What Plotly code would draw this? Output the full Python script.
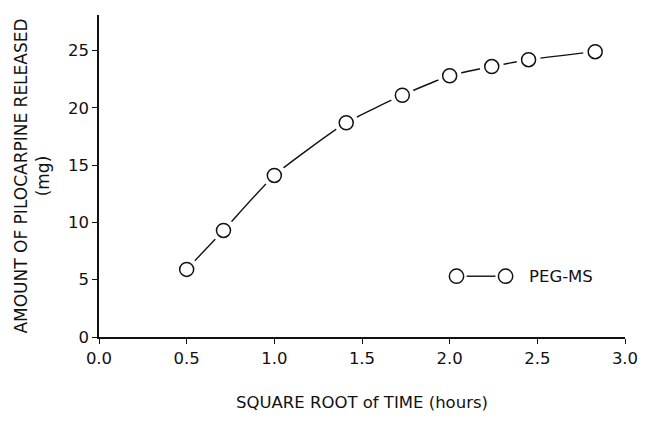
import plotly.graph_objects as go

# Data
sqrt_time = [0.5, 0.71, 1.0, 1.41, 1.73, 2.0, 2.24, 2.45, 2.83]
released_mg = [5.9, 9.3, 14.1, 18.7, 21.1, 22.8, 23.6, 24.2, 24.9]
x_ticks = [0.0, 0.5, 1.0, 1.5, 2.0, 2.5, 3.0]
x_tick_text = ["0.0", "0.5", "1.0", "1.5", "2.0", "2.5", "3.0"]
y_ticks = [0, 5, 10, 15, 20, 25]
y_tick_text = ["0", "5", "10", "15", "20", "25"]
series_name = "PEG-MS"

FONT = "DejaVu Sans"
INK = "#111111"
X_RANGE = [0, 3.0]
Y_RANGE = [0, 28.1]

fig = go.Figure()
# connecting curve
fig.add_trace(go.Scatter(x=sqrt_time, y=released_mg, mode="lines",
                         line=dict(color=INK, width=1.4, shape="spline", smoothing=0.5),
                         showlegend=False, hoverinfo="skip"))
# white halos to create gaps between line and markers
fig.add_trace(go.Scatter(x=sqrt_time, y=released_mg, mode="markers",
                         marker=dict(size=24, color="white", line=dict(width=0)),
                         showlegend=False, hoverinfo="skip"))
# open circle markers
fig.add_trace(go.Scatter(x=sqrt_time, y=released_mg, mode="markers", name=series_name,
                         marker=dict(size=14, color="white", line=dict(color=INK, width=1.5)),
                         showlegend=False))

# manual legend: circle - line - circle  PEG-MS (paper coordinates)
L, T, W, H = 99, 15, 536, 330
def px(xp):
    return (xp - L) / W
def py(yp):
    return (T + H - yp) / H
ly = 282.7
r = 7.3
for cx in (463.3, 513.3):
    fig.add_shape(type="circle", xref="paper", yref="paper",
                  x0=px(cx - r), x1=px(cx + r), y0=py(ly + r), y1=py(ly - r),
                  line=dict(color=INK, width=1.5), fillcolor="white")
fig.add_shape(type="line", xref="paper", yref="paper",
              x0=px(463.3 + r + 3), x1=px(513.3 - r - 3), y0=py(ly), y1=py(ly),
              line=dict(color=INK, width=1.4))
fig.add_annotation(text=series_name, xref="paper", yref="paper",
                   x=px(535), y=py(ly), xanchor="left", yanchor="middle",
                   showarrow=False, font=dict(family=FONT, size=16.5, color=INK))

axis_common = dict(showgrid=False, zeroline=False, showline=True, linecolor=INK,
                   linewidth=1.6, ticks="outside", ticklen=5, tickwidth=1.3,
                   tickcolor=INK, tickfont=dict(family=FONT, size=16.5, color=INK))

fig.update_layout(
    width=650, height=421,
    margin=dict(l=L, r=650 - L - W, t=T, b=421 - T - H),
    paper_bgcolor="white", plot_bgcolor="white",
    showlegend=False,
    xaxis=dict(range=X_RANGE, tickvals=x_ticks, ticktext=x_tick_text,
               title=dict(text="SQUARE ROOT of TIME (hours)", standoff=30,
                          font=dict(family=FONT, size=16.5, color=INK)),
               **axis_common),
    yaxis=dict(range=Y_RANGE, tickvals=y_ticks, ticktext=y_tick_text,
               title=dict(text="AMOUNT OF PILOCARPINE RELEASED<br>(mg)", standoff=14,
                          font=dict(family=FONT, size=17, color=INK)),
               **axis_common),
    # overlay axes for the inward half of the crossing ticks
    xaxis2=dict(range=X_RANGE, tickvals=x_ticks, overlaying="x", anchor="y", side="bottom",
                showticklabels=False, showgrid=False, zeroline=False, showline=False,
                ticks="inside", ticklen=5, tickwidth=1.3, tickcolor=INK),
    yaxis2=dict(range=Y_RANGE, tickvals=y_ticks, overlaying="y", anchor="x", side="left",
                showticklabels=False, showgrid=False, zeroline=False, showline=False,
                ticks="inside", ticklen=5, tickwidth=1.3, tickcolor=INK),
)

fig.write_html("out.html",
               config={"displayModeBar": False},
               post_script="document.body.style.margin='0';document.body.style.padding='0';")
